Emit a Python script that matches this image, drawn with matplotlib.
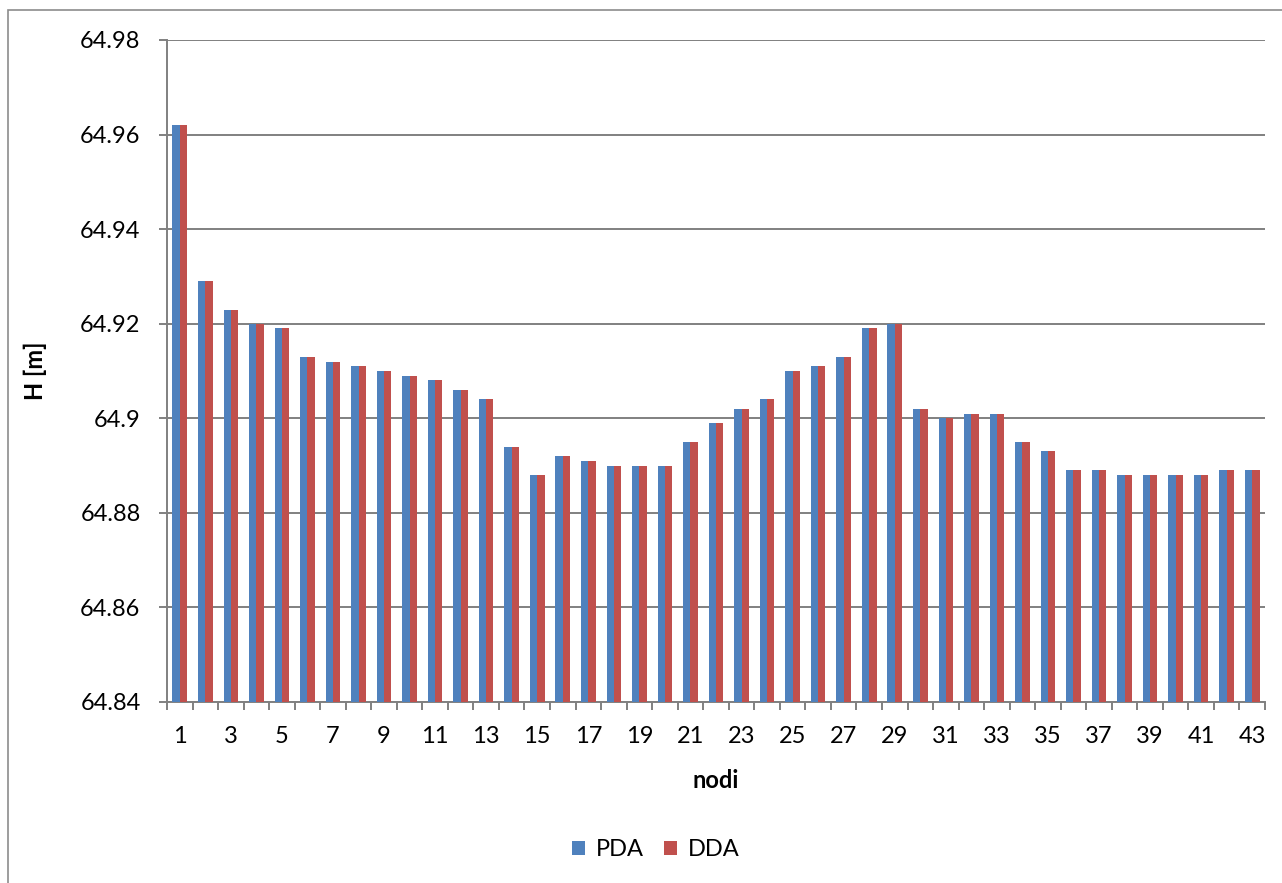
import numpy as np
import matplotlib
matplotlib.use("Agg")
import matplotlib.pyplot as plt
from matplotlib.patches import Rectangle

plt.rcParams['font.family'] = ['Lato', 'DejaVu Sans']

nodi = list(range(1, 44))
pda = [64.962, 64.929, 64.923, 64.920, 64.919, 64.913, 64.912, 64.911, 64.910, 64.909,
       64.908, 64.906, 64.904, 64.894, 64.888, 64.892, 64.891, 64.890, 64.890, 64.890,
       64.895, 64.899, 64.902, 64.904, 64.910, 64.911, 64.913, 64.919, 64.920, 64.902,
       64.900, 64.901, 64.901, 64.895, 64.893, 64.889, 64.889, 64.888, 64.888, 64.888,
       64.888, 64.889, 64.889]
dda = [64.962, 64.929, 64.923, 64.920, 64.919, 64.913, 64.912, 64.911, 64.910, 64.909,
       64.908, 64.906, 64.904, 64.894, 64.888, 64.892, 64.891, 64.890, 64.890, 64.890,
       64.895, 64.899, 64.902, 64.904, 64.910, 64.911, 64.913, 64.919, 64.920, 64.902,
       64.900, 64.901, 64.901, 64.895, 64.893, 64.889, 64.889, 64.888, 64.888, 64.888,
       64.888, 64.889, 64.889]
y_ticks = [64.84, 64.86, 64.88, 64.90, 64.92, 64.94, 64.96, 64.98]
y_tick_labels = ['64.84', '64.86', '64.88', '64.9', '64.92', '64.94', '64.96', '64.98']

W, H = 1282, 883
fig = plt.figure(figsize=(W / 100, H / 100), dpi=100)
ax = fig.add_axes([167 / W, 1 - 702 / H, (1265 - 167) / W, (702 - 40) / H])

grey = '#808080'
ymin = 64.84
x = np.array(nodi, dtype=float)
bw = 1 / 3.5
ax.bar(x - bw / 2, np.array(pda) - ymin, bw, bottom=ymin, color='#4F81BD', label='PDA', zorder=3)
ax.bar(x + bw / 2, np.array(dda) - ymin, bw, bottom=ymin, color='#C0504D', label='DDA', zorder=3)

ax.set_xlim(0.5, 43.5)
ax.set_ylim(64.84, 64.98)
ax.set_yticks(y_ticks)
ax.set_yticklabels(y_tick_labels)
ax.yaxis.grid(True, color=grey, linewidth=1.4, zorder=0)
ax.set_axisbelow(True)

ax.set_xticks(np.arange(0.5, 44, 1.0))
ax.set_xticklabels([])
ax.set_xticks(x[::2], minor=True)
ax.set_xticklabels([str(n) for n in nodi[::2]], minor=True)
ax.tick_params(axis='x', which='major', length=6, width=1.4, color=grey, direction='out')
ax.tick_params(axis='x', which='minor', length=0, pad=17, labelsize=17)
ax.tick_params(axis='y', length=6, width=1.4, color=grey, pad=13, labelsize=17)

for s in ['top', 'right']:
    ax.spines[s].set_visible(False)
for s in ['left', 'bottom']:
    ax.spines[s].set_color(grey)
    ax.spines[s].set_linewidth(1.4)

fig.text(35 / W, 1 - 371 / H, 'H [m]', rotation=90, ha='center', va='center',
         fontsize=17, fontweight='bold')
fig.text(716 / W, 1 - 780 / H, 'nodi', ha='center', va='center',
         fontsize=17, fontweight='bold')

fig.legend(loc='center', bbox_to_anchor=(656 / W, 1 - 850 / H), ncol=2, frameon=False,
           fontsize=17, handlelength=0.55, handleheight=0.55, handletextpad=0.45,
           columnspacing=0.85)

fig.patches.append(Rectangle((8 / W, -0.1), 1.2, 1.1 - 10 / H, transform=fig.transFigure,
                             fill=False, edgecolor='#8c8c8c', linewidth=1.2))

fig.savefig('out.png', dpi=100, facecolor='white')
